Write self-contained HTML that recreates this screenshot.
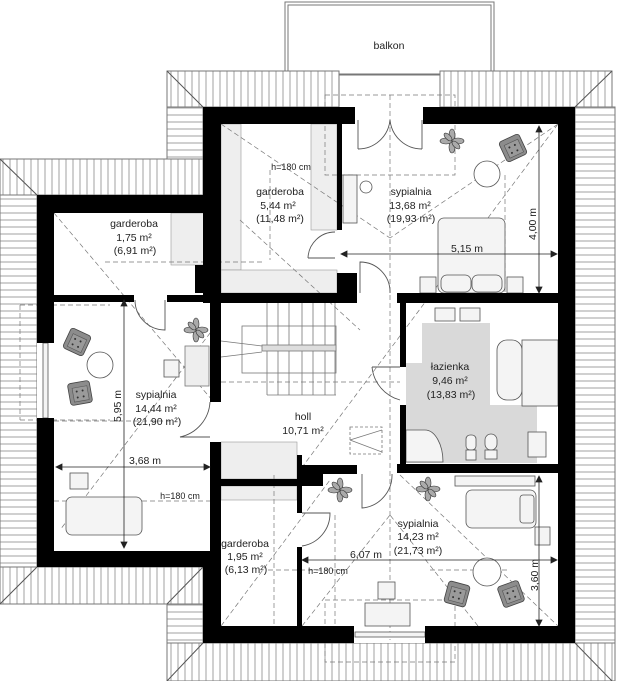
<!DOCTYPE html>
<html><head><meta charset="utf-8"><style>
html,body{margin:0;padding:0;background:#fff}
svg{display:block}
text{font-family:"Liberation Sans",sans-serif;font-size:10.5px;fill:#222;text-anchor:middle}
</style></head><body>
<svg width="630" height="681" viewBox="0 0 630 681" xmlns="http://www.w3.org/2000/svg">
<defs>
<pattern id="v" width="7" height="10" patternUnits="userSpaceOnUse"><rect width="7" height="10" fill="#fff"/><line x1="3" y1="0" x2="3" y2="10" stroke="#8a8a8a" stroke-width="0.8"/></pattern>
<pattern id="h" width="10" height="7" patternUnits="userSpaceOnUse"><rect width="10" height="7" fill="#fff"/><line x1="0" y1="3" x2="10" y2="3" stroke="#8a8a8a" stroke-width="0.8"/></pattern>
<g id="chair"><rect x="-11" y="-11" width="22" height="22" rx="3" fill="#8c8c8c" stroke="#444" stroke-width="0.8"/><rect x="-7" y="-6" width="15" height="14" fill="#9a9a9a" stroke="#555" stroke-width="0.6"/><circle cx="-3" cy="-2" r="1" fill="#333"/><circle cx="3" cy="-2" r="1" fill="#333"/><circle cx="-3" cy="4" r="1" fill="#333"/><circle cx="3" cy="4" r="1" fill="#333"/></g>
<g id="plant" stroke="#333" stroke-width="0.6" fill="#aaa"><ellipse cx="0" cy="-6" rx="3" ry="6"/><ellipse cx="0" cy="6" rx="3" ry="6"/><ellipse cx="-6" cy="0" rx="6" ry="3"/><ellipse cx="6" cy="0" rx="6" ry="3"/><ellipse cx="-4" cy="-4" rx="2.5" ry="5" transform="rotate(-45 -4 -4)"/><ellipse cx="4" cy="4" rx="2.5" ry="5" transform="rotate(-45 4 4)"/></g>
</defs>

<!-- balcony -->
<rect x="285" y="2" width="209" height="72" fill="#fff" stroke="#777" stroke-width="1"/>
<rect x="288" y="5" width="203" height="70" fill="none" stroke="#777" stroke-width="1"/>
<text x="389" y="49">balkon</text>

<!-- roofs -->
<rect x="167" y="71" width="172" height="36" fill="url(#v)" stroke="#777"/>
<rect x="167" y="107" width="36" height="52" fill="url(#h)" stroke="#777"/>
<rect x="440" y="71" width="172" height="36" fill="url(#v)" stroke="#777"/>
<rect x="575" y="107" width="40" height="574" fill="url(#h)" stroke="#777"/>
<rect x="0" y="159" width="203" height="36" fill="url(#v)" stroke="#777"/>
<rect x="0" y="195" width="37" height="409" fill="url(#h)" stroke="#777"/>
<rect x="0" y="567" width="203" height="37" fill="url(#v)" stroke="#777"/>
<rect x="167" y="604" width="36" height="77" fill="url(#h)" stroke="#777"/>
<rect x="167" y="643" width="448" height="38" fill="url(#v)" stroke="#777"/>
<rect x="203" y="604" width="0" height="0"/>
<g stroke="#555" stroke-width="1">
<line x1="167" y1="71" x2="203" y2="107"/><line x1="612" y1="71" x2="575" y2="107"/>
<line x1="0" y1="159" x2="37" y2="195"/><line x1="0" y1="604" x2="37" y2="567"/>
<line x1="203" y1="567" x2="167" y2="604"/><line x1="203" y1="643" x2="167" y2="681"/>
<line x1="575" y1="643" x2="612" y2="681"/>
</g>

<!-- interior white -->
<rect x="203" y="107" width="372" height="536" fill="#fff"/>
<rect x="37" y="195" width="170" height="372" fill="#fff"/>

<!-- light grey built-ins -->
<g fill="#eeeeee" stroke="#999" stroke-width="0.6">
<rect x="221" y="124" width="20" height="146"/>
<rect x="311" y="124" width="26" height="106"/>
<rect x="221" y="270" width="116" height="23"/>
<rect x="171" y="213" width="38" height="52"/>
<rect x="221" y="442" width="76" height="37"/>
<rect x="221" y="486" width="76" height="14"/>
</g>

<!-- bathroom floor -->
<polygon points="422,323 490,323 490,405 537,405 537,463 406,463 406,363 422,363" fill="#d9d9d9"/>

<!-- dashed lines -->
<g stroke="#777" stroke-width="0.7" stroke-dasharray="5,3" fill="none">
<line x1="390" y1="95" x2="390" y2="640"/>
<rect x="325" y="95" width="130" height="80"/>
<rect x="325" y="600" width="130" height="62"/>
<line x1="221" y1="124" x2="390" y2="238"/><line x1="558" y1="124" x2="390" y2="238"/>
<line x1="240" y1="220" x2="360" y2="330"/>
<line x1="558" y1="124" x2="300" y2="470"/>
<line x1="54" y1="213" x2="212" y2="400"/>
<line x1="220" y1="320" x2="60" y2="530"/>
<line x1="105" y1="262" x2="265" y2="262"/>
<line x1="54" y1="421" x2="170" y2="421"/>
<line x1="20" y1="305" x2="20" y2="420"/><line x1="20" y1="305" x2="110" y2="305"/>
<line x1="20" y1="420" x2="110" y2="420"/>
<line x1="221" y1="382" x2="400" y2="382"/>
<line x1="54" y1="501" x2="210" y2="501"/>
<line x1="221" y1="626" x2="330" y2="480"/>
<line x1="400" y1="475" x2="558" y2="626"/>
<line x1="302" y1="626" x2="390" y2="515"/><line x1="478" y1="626" x2="390" y2="515"/>
<line x1="268" y1="570" x2="345" y2="570"/><line x1="430" y1="570" x2="510" y2="570"/>
<line x1="335" y1="515" x2="335" y2="640"/>
<line x1="274" y1="475" x2="274" y2="626"/>
<line x1="270" y1="170" x2="270" y2="260"/>
<line x1="505" y1="175" x2="505" y2="295"/>
</g>

<!-- stairs -->
<g stroke="#777" stroke-width="0.8" fill="none">
<rect x="242" y="326" width="94" height="47"/>
<line x1="267" y1="303" x2="267" y2="395"/><line x1="278" y1="303" x2="278" y2="395"/>
<line x1="289" y1="303" x2="289" y2="395"/><line x1="302" y1="303" x2="302" y2="395"/>
<line x1="313" y1="303" x2="313" y2="395"/><line x1="325" y1="303" x2="325" y2="395"/>
<line x1="335" y1="303" x2="335" y2="395"/>
<line x1="267" y1="395" x2="336" y2="395"/>
<rect x="262" y="345" width="74" height="6" fill="#ddd"/>
<line x1="221" y1="341" x2="262" y2="346"/><line x1="221" y1="357" x2="262" y2="352"/>
<rect x="185" y="346" width="24" height="40" fill="#eee"/>
<rect x="350" y="427" width="32" height="27" stroke-dasharray="3,2"/>
<line x1="350" y1="440" x2="382" y2="430"/><line x1="350" y1="440" x2="382" y2="452"/>
</g>

<!-- doors -->
<g stroke="#555" stroke-width="0.9" fill="none">
<path d="M358 149 L358 120 M358 149 A32 32 0 0 0 390 120"/>
<path d="M422 149 L422 120 M422 149 A32 32 0 0 1 390 120"/>
<path d="M308 258 L335 258 M308 258 A27 27 0 0 1 335 232"/>
<path d="M360 293 L360 262 A30 30 0 0 1 390 293"/>
<path d="M135 300 A30 30 0 0 0 165 330 L165 300"/>
<path d="M372 367 A38 38 0 0 0 400 400 M372 367 L400 367"/>
<path d="M210 402 A38 38 0 0 1 180 437 L210 437"/>
<path d="M362 474 L362 508 A33 33 0 0 0 392 474"/>
<path d="M302 513 L330 513 A33 33 0 0 1 302 546"/>
</g>

<!-- furniture -->
<g stroke="#555" stroke-width="0.8" fill="#f4f4f4">
<rect x="438" y="218" width="67" height="75" rx="6"/>
<rect x="441" y="275" width="30" height="17" rx="6"/><rect x="472" y="275" width="30" height="17" rx="6"/>
<rect x="420" y="277" width="16" height="16"/><rect x="507" y="277" width="16" height="16"/>
<circle cx="487" cy="174" r="13" fill="#fff"/>
<rect x="343" y="175" width="14" height="48"/>
<circle cx="366" cy="187" r="6" fill="#fff"/>
<circle cx="100" cy="365" r="13" fill="#fff"/>
<rect x="164" y="360" width="15" height="17"/>
<rect x="66" y="497" width="76" height="38" rx="6"/>
<rect x="70" y="473" width="18" height="16"/>
<rect x="466" y="490" width="70" height="38" rx="6"/>
<rect x="520" y="495" width="14" height="28" rx="3"/>
<rect x="455" y="476" width="80" height="10"/>
<rect x="535" y="527" width="15" height="18"/>
<circle cx="487" cy="572" r="14" fill="#fff"/>
<rect x="365" y="603" width="45" height="23"/>
<rect x="378" y="582" width="17" height="17"/>
<rect x="355" y="632" width="70" height="5"/>
<rect x="43" y="343" width="5" height="75"/>
<rect x="435" y="308" width="20" height="13"/><rect x="460" y="308" width="20" height="13"/>
<rect x="497" y="340" width="25" height="60" rx="10"/>
<rect x="522" y="340" width="36" height="66"/>
<rect x="528" y="432" width="18" height="25"/>
<path d="M406 430 L425 430 A18 32 0 0 1 443 462 L406 462 Z"/>
<rect x="466" y="435" width="10" height="15" rx="4"/><rect x="466" y="450" width="10" height="10"/>
<rect x="485" y="434" width="12" height="16" rx="6"/><rect x="485" y="450" width="12" height="9"/>
</g>
<use href="#chair" transform="translate(513,148) rotate(-25)"/>
<use href="#chair" transform="translate(77,342) rotate(25)"/>
<use href="#chair" transform="translate(80,393) rotate(-10)"/>
<use href="#chair" transform="translate(457,594) rotate(15)"/>
<use href="#chair" transform="translate(511,594) rotate(-20)"/>
<use href="#plant" transform="translate(452,141)"/>
<use href="#plant" transform="translate(196,330)"/>
<use href="#plant" transform="translate(340,490)"/>
<use href="#plant" transform="translate(428,489)"/>

<!-- walls -->
<g fill="#000">
<rect x="203" y="107" width="152" height="17"/>
<rect x="423" y="107" width="152" height="17"/>
<rect x="203" y="107" width="18" height="196"/>
<rect x="558" y="107" width="17" height="536"/>
<rect x="37" y="195" width="184" height="18"/>
<rect x="37" y="195" width="17" height="148"/>
<rect x="37" y="418" width="17" height="149"/>
<rect x="37" y="551" width="184" height="16"/>
<rect x="203" y="551" width="18" height="92"/>
<rect x="203" y="626" width="151" height="17"/>
<rect x="425" y="626" width="150" height="17"/>
<rect x="195" y="265" width="26" height="28"/>
<rect x="54" y="295" width="80" height="7"/>
<rect x="167" y="295" width="54" height="7"/>
<rect x="337" y="124" width="5" height="106"/>
<rect x="337" y="273" width="20" height="20"/>
<rect x="221" y="293" width="136" height="10"/>
<rect x="397" y="293" width="161" height="10"/>
<rect x="400" y="303" width="6" height="64"/>
<rect x="400" y="405" width="6" height="59"/>
<rect x="397" y="464" width="161" height="9"/>
<rect x="210" y="303" width="11" height="99"/>
<rect x="210" y="442" width="11" height="125"/>
<rect x="297" y="465" width="60" height="9"/>
<rect x="297" y="455" width="5" height="58"/>
<rect x="297" y="547" width="5" height="79"/>
<rect x="221" y="479" width="80" height="7"/>
<rect x="302" y="473" width="21" height="13"/>
</g>

<!-- dimension lines -->
<g stroke="#222" stroke-width="0.8" fill="#222">
<line x1="341" y1="254" x2="557" y2="254"/>
<line x1="539" y1="126" x2="539" y2="293"/>
<line x1="124" y1="300" x2="124" y2="548"/>
<line x1="56" y1="467" x2="210" y2="467"/>
<line x1="302" y1="560" x2="557" y2="560"/>
<line x1="539" y1="476" x2="539" y2="626"/>
<path d="M341 254 l6 -3 v6 z M557 254 l-6 -3 v6 z M539 126 l-3 6 h6 z M539 293 l-3 -6 h6 z M124 300 l-3 6 h6 z M124 548 l-3 -6 h6 z M56 467 l6 -3 v6 z M210 467 l-6 -3 v6 z M302 560 l6 -3 v6 z M557 560 l-6 -3 v6 z M539 476 l-3 6 h6 z M539 626 l-3 -6 h6 z"/>
</g>

<!-- labels -->
<text x="280" y="195">garderoba</text>
<text x="278" y="209">5,44 m²</text>
<text x="280" y="222">(11,48 m²)</text>
<text x="291" y="170" style="font-size:9px">h=180 cm</text>
<text x="411" y="195">sypialnia</text>
<text x="410" y="209">13,68 m²</text>
<text x="411" y="222">(19,93 m²)</text>
<text x="467" y="252">5,15 m</text>
<text x="0" y="0" transform="translate(536,224) rotate(-90)">4,00 m</text>
<text x="134" y="227">garderoba</text>
<text x="134" y="241">1,75 m²</text>
<text x="135" y="254">(6,91 m²)</text>
<text x="156" y="398">sypialnia</text>
<text x="156" y="412">14,44 m²</text>
<text x="157" y="425">(21,90 m²)</text>
<text x="0" y="0" transform="translate(121,406) rotate(-90)">5,95 m</text>
<text x="145" y="464">3,68 m</text>
<text x="180" y="499" style="font-size:9px">h=180 cm</text>
<text x="303" y="420">holl</text>
<text x="303" y="434">10,71 m²</text>
<text x="450" y="370">łazienka</text>
<text x="450" y="384">9,46 m²</text>
<text x="451" y="398">(13,83 m²)</text>
<text x="418" y="527">sypialnia</text>
<text x="418" y="540">14,23 m²</text>
<text x="418" y="554">(21,73 m²)</text>
<text x="366" y="558">6,07 m</text>
<text x="0" y="0" transform="translate(538,575) rotate(-90)">3,60 m</text>
<text x="328" y="574" style="font-size:9px">h=180 cm</text>
<text x="245" y="547">garderoba</text>
<text x="245" y="560">1,95 m²</text>
<text x="246" y="573">(6,13 m²)</text>
</svg>
</body></html>
